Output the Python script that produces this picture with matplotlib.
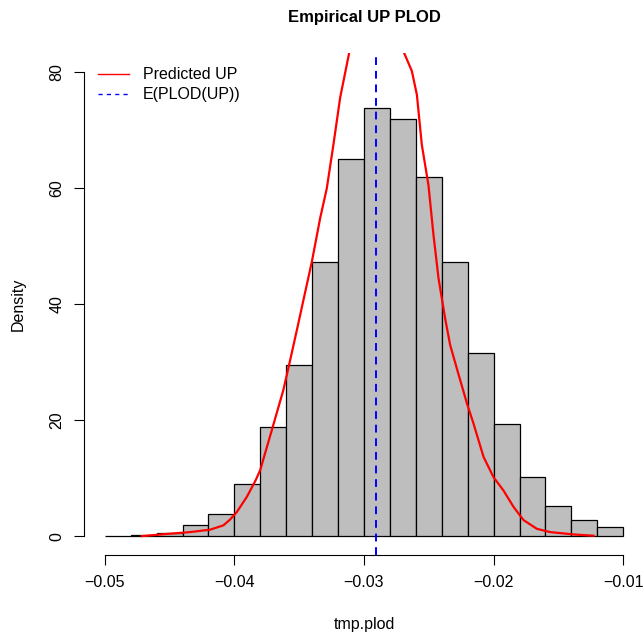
import matplotlib
matplotlib.use('Agg')
import matplotlib.pyplot as plt
from matplotlib.lines import Line2D

plt.rcParams['font.family'] = ['Liberation Sans', 'DejaVu Sans']

# histogram of tmp.plod (density scale)
bin_edges = [-0.050, -0.048, -0.046, -0.044, -0.042, -0.040, -0.038, -0.036, -0.034, -0.032,
             -0.030, -0.028, -0.026, -0.024, -0.022, -0.020, -0.018, -0.016, -0.014, -0.012, -0.010]
density = [0.1, 0.3, 0.6, 1.9, 3.9, 9.1, 18.9, 29.5, 47.2, 65.0,
           73.7, 71.9, 61.8, 47.2, 31.5, 19.4, 10.3, 5.3, 2.9, 1.7]

# density curve of predicted UP
curve_x = [-0.04714, -0.04496, -0.04342, -0.04187, -0.04085, -0.04033, -0.03981, -0.03904,
           -0.03835, -0.03801, -0.03711, -0.03622, -0.03570, -0.03518, -0.03467, -0.03402,
           -0.03338, -0.03287, -0.03236, -0.03184, -0.03112, -0.03068, -0.03014, -0.02953,
           -0.02875, -0.02798, -0.02736, -0.02696, -0.02631, -0.02592, -0.02554, -0.02503,
           -0.02464, -0.02425, -0.02374, -0.02335, -0.02258, -0.02206, -0.02155, -0.02078,
           -0.02001, -0.01924, -0.01847, -0.01769, -0.01666, -0.01563, -0.01384, -0.01229]
curve_y = [0.05, 0.47, 0.74, 1.16, 1.9, 2.9, 4.2, 6.8,
           9.7, 11.4, 18.3, 25.2, 30.3, 35.5, 40.7, 47.3,
           54.8, 59.9, 67.4, 75.5, 83.5, 88.0, 91.5, 93.5,
           94.0, 92.5, 88.0, 83.5, 80.1, 76.0, 67.4, 60.5,
           51.9, 44.4, 37.5, 32.9, 26.9, 22.9, 19.4, 13.7,
           10.2, 7.9, 5.1, 2.8, 1.3, 0.74, 0.34, 0.12]

expected_plod = -0.0291

x_ticks = [-0.05, -0.04, -0.03, -0.02, -0.01]
x_tick_labels = ['\u22120.05', '\u22120.04', '\u22120.03', '\u22120.02', '\u22120.01']
y_ticks = [0, 20, 40, 60, 80]

fig = plt.figure(figsize=(6.44, 6.36), dpi=100)
ax = fig.add_axes([84 / 644, 1 - 555 / 636, 560 / 644, 502 / 636])

widths = [bin_edges[i + 1] - bin_edges[i] for i in range(len(density))]
ax.bar(bin_edges[:-1], density, width=widths, align='edge',
       color='#BEBEBE', edgecolor='black', linewidth=0.9)

ax.plot(curve_x, curve_y, color='red', linewidth=1.6)
ax.axvline(expected_plod, color='blue', linewidth=1.4, linestyle=(0, (4, 3)))

ax.set_xlim(-0.0516, -0.0084)
ax.set_ylim(-3.2, 83.2)

for s in ['top', 'right']:
    ax.spines[s].set_visible(False)
ax.spines['bottom'].set_bounds(-0.05, -0.01)
ax.spines['left'].set_bounds(0, 80)
ax.spines['bottom'].set_linewidth(0.8)
ax.spines['left'].set_linewidth(0.8)

ax.set_xticks(x_ticks)
ax.set_xticklabels(x_tick_labels)
ax.set_yticks(y_ticks)
ax.set_yticklabels([str(v) for v in y_ticks], rotation=90, va='center')
ax.tick_params(axis='both', length=7.2, width=0.8, labelsize=11.5, pad=7)

ax.set_xlabel('tmp.plod', fontsize=11.5, labelpad=20)
ax.set_ylabel('Density', fontsize=11.5, labelpad=17)
ax.set_title('Empirical UP PLOD', fontsize=12, fontweight='bold', pad=22)

handles = [Line2D([0], [0], color='red', linewidth=1.0),
           Line2D([0], [0], color='blue', linewidth=1.0, linestyle=(0, (3, 3)))]
ax.legend(handles, ['Predicted UP', 'E(PLOD(UP))'], loc='upper left',
          bbox_to_anchor=(0.0, 1.0), frameon=False, fontsize=11.5,
          handlelength=1.9, handletextpad=0.9, labelspacing=0.3, borderaxespad=0.5)

fig.savefig('out.png', dpi=100)
